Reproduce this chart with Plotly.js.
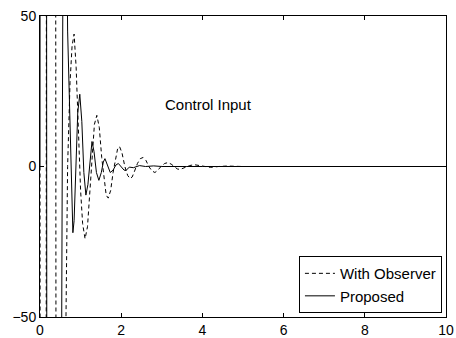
<!DOCTYPE html>
<html>
<head>
<meta charset="utf-8">
<script src="https://cdn.plot.ly/plotly-3.0.1.min.js"></script>
<style>html,body{margin:0;padding:0;background:#fff;}#chart{width:456px;height:338px;}</style>
</head>
<body>
<div id="chart"></div>
<script>
// Time (s) and control input values
const obsTime = [0, 0.02, 0.14, 0.17, 0.37, 0.41, 0.5, 0.6, 0.68, 0.74, 0.79, 0.84, 0.89, 0.95, 1.0, 1.05, 1.11, 1.17, 1.23, 1.29, 1.34, 1.4, 1.46, 1.52, 1.58, 1.63, 1.68, 1.74, 1.8, 1.86, 1.91, 1.96, 2.02, 2.09, 2.16, 2.22, 2.27, 2.33, 2.4, 2.47, 2.54, 2.61, 2.68, 2.76, 2.83, 2.9, 2.98, 3.07, 3.15, 3.23, 3.31, 3.38, 3.45, 3.55, 3.68, 3.8, 3.93, 4.05, 4.2, 4.4, 4.6, 5, 6, 7, 8, 9, 10];
const obsValue = [0, -400, -400, 400, 400, -400, -400, -100, 0, 28, 40, 44, 33, 10, -8, -19, -24, -20, -7, 7, 14, 17, 13, 3, -5, -9.5, -10.5, -8, -2, 3, 5.8, 6.6, 4.5, 0, -3, -4, -3.5, -1.5, 1, 2.6, 3, 2, 0, -1.5, -2, -1.3, 0, 1, 1.3, 0.8, -0.2, -0.8, -1, -0.5, 0.3, 0.6, 0.3, -0.2, -0.3, 0, 0.15, 0, 0, 0, 0, 0, 0];

const propTime = [0, 0.015, 0.15, 0.18, 0.47, 0.6, 0.68, 0.74, 0.78, 0.81, 0.84, 0.88, 0.93, 0.98, 1.03, 1.08, 1.13, 1.18, 1.23, 1.28, 1.33, 1.39, 1.45, 1.51, 1.56, 1.6, 1.66, 1.73, 1.8, 1.87, 1.93, 2.0, 2.07, 2.12, 2.2, 2.3, 2.45, 2.6, 2.8, 3.0, 3.3, 3.6, 4.0, 5, 6, 7, 8, 9, 10];
const propValue = [0, 400, 400, -400, -300, 200, 45, 10, -12, -22, -18, 2, 18, 24, 15, -2, -9.5, -6, 2, 8.3, 5, -2, -4.6, -2, 1.5, 2.6, 0.5, -2, -1.2, 0.5, 1, 0, -1.2, -1.3, -0.2, -0.4, 0.3, 0, 0.2, 0, 0.1, 0, 0, 0, 0, 0, 0, 0, 0];

const xTicks = [0, 2, 4, 6, 8, 10];
const yTicks = [-50, 0, 50];
const seriesNames = ["With Observer", "Proposed"];
const chartLabel = "Control Input";

const fontFam = "Liberation Sans, Arial, Helvetica, sans-serif";

const traces = [
  {x: obsTime, y: obsValue, name: seriesNames[0], mode: "lines",
   line: {color: "#000", width: 1, dash: "4px,3px"}},
  {x: propTime, y: propValue, name: seriesNames[1], mode: "lines",
   line: {color: "#000", width: 1}}
];

const axisCommon = {
  showgrid: false, zeroline: false, showline: true, linecolor: "#000", linewidth: 1,
  mirror: "ticks", ticks: "inside", ticklen: 4, tickcolor: "#000", tickwidth: 1,
  tickfont: {family: fontFam, size: 14, color: "#000"}
};

const layout = {
  width: 456, height: 338,
  margin: {l: 40, r: 10, t: 16, b: 21},
  paper_bgcolor: "#fff", plot_bgcolor: "#fff",
  font: {family: fontFam, size: 14, color: "#000"},
  xaxis: Object.assign({}, axisCommon, {range: [0, 10], tickvals: xTicks, ticktext: xTicks.map(String)}),
  yaxis: Object.assign({}, axisCommon, {range: [-50, 50], tickvals: yTicks}),
  showlegend: true,
  legend: {x: 0.99, y: 0.013, xanchor: "right", yanchor: "bottom",
           bgcolor: "#fff", bordercolor: "#000", borderwidth: 1,
           font: {family: fontFam, size: 15, color: "#000"},
           itemwidth: 30, tracegroupgap: 0},
  annotations: [{x: 4.14, y: 20.5, xref: "x", yref: "y", text: chartLabel, showarrow: false,
                 font: {family: fontFam, size: 15, color: "#000"}}]
};

Plotly.newPlot("chart", traces, layout, {staticPlot: true, displayModeBar: false});
</script>
</body>
</html>
